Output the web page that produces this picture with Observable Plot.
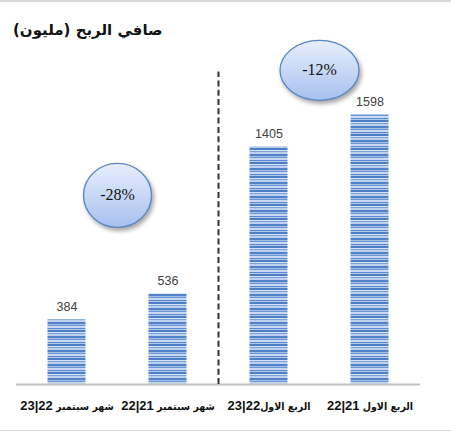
<!DOCTYPE html>
<html>
<head>
<meta charset="utf-8">
<script src="https://cdn.jsdelivr.net/npm/d3@7"></script>
<script src="https://cdn.jsdelivr.net/npm/@observablehq/plot@0.6"></script>
<style>
  body { margin: 0; background: #fff; }
  #wrap { position: relative; width: 451px; height: 432px; overflow: hidden; background: #fff; }
  #topline { position: absolute; left: 0; top: 0; width: 451px; height: 2px; background: #dadada; }
  #botline { position: absolute; left: 0; top: 430px; width: 451px; height: 1px; background: #dadada; }
  #title { position: absolute; left: 13px; top: 20px; font: bold 15px "DejaVu Sans", sans-serif; direction: rtl; color: #111; white-space: nowrap; line-height: 20px; }
  #chart { position: absolute; left: 0; top: 0; }
  .ell path { filter: drop-shadow(2px 3px 2px rgba(0,0,0,0.35)); }
  .arpart { font-size: 10.5px; font-family: "DejaVu Sans Condensed", "DejaVu Sans", sans-serif; }
</style>
</head>
<body>
<div id="wrap">
  <div id="chart"></div>
  <div id="topline"></div>
  <div id="botline"></div>
  <div id="title"></div>
</div>
<script>
const titleText = "صافي الربح (مليون)";
const categories = ["شهر سبتمبر 22|23", "شهر سبتمبر 21|22", "الربع الاول22|23", "الربع الاول 21|22"];
const values = [384, 536, 1405, 1598];
const changeLabels = ["-28%", "-12%"];
const changeAt = [1, 3];          // between the two compared categories
const changeY = [1120, 1860];     // vertical placement in data units
const dividerAt = [2];            // divider between the two groups

document.getElementById("title").textContent = titleText;

const bars = categories.map((c, i) => ({c, i, v: values[i]}));
const ellSizes = [[34, 32], [39.5, 30]];

function ellipse(rx, ry) {
  return {
    draw(ctx) {
      const k = 0.5522847498;
      ctx.moveTo(rx, 0);
      ctx.bezierCurveTo(rx, ry * k, rx * k, ry, 0, ry);
      ctx.bezierCurveTo(-rx * k, ry, -rx, ry * k, -rx, 0);
      ctx.bezierCurveTo(-rx, -ry * k, -rx * k, -ry, 0, -ry);
      ctx.bezierCurveTo(rx * k, -ry, rx, -ry * k, rx, 0);
      ctx.closePath();
    }
  };
}

const font = '"Liberation Sans", "DejaVu Sans", sans-serif';

const chart = Plot.plot({
  width: 451,
  height: 432,
  marginLeft: 16,
  marginRight: 31,
  marginTop: 80,
  marginBottom: 48,
  style: {fontFamily: font, background: "transparent"},
  x: {domain: [0, 4], axis: null},
  y: {domain: [0, 1800], axis: null},
  marks: [
    Plot.rectY(bars, {x1: d => d.i, x2: d => d.i + 1, y: "v", insetLeft: 31.5, insetRight: 31.5, fill: "url(#barStripes)"}),
    Plot.ruleY([0], {stroke: "#bfbfbf", strokeWidth: 2}),
    Plot.ruleX(dividerAt, {y1: 0, y2: 1850, stroke: "#333", strokeWidth: 2, strokeDasharray: "6,3.3"}),
    Plot.text(bars, {x: d => d.i + 0.5, y: "v", text: d => String(d.v), dy: -13, fill: "#404040", fontSize: 12.5, fontFamily: font}),
    Plot.axisX(bars.map(d => d.i + 0.5), {
      tickFormat: t => categories[Math.floor(t)],
      tickSize: 0, tickPadding: 16, fontSize: 13, fontWeight: "bold", color: "#111", fontFamily: font
    }),
    ...changeLabels.map((lab, k) => Plot.dot([k], {
      x: j => changeAt[j], y: j => changeY[j],
      symbol: ellipse(ellSizes[k][0], ellSizes[k][1]),
      fill: "url(#ellGrad)", stroke: "#5b86c5", strokeWidth: 1.3, className: "ell"
    })),
    Plot.text(changeLabels, {x: (d, k) => changeAt[k], y: (d, k) => changeY[k], text: d => d, fontFamily: '"Liberation Serif", serif', fontSize: 16, fill: "#111"})
  ]
});

const svg = d3.select(chart);
const defs = svg.insert("defs", ":first-child");
const pat = defs.append("pattern").attr("id", "barStripes").attr("patternUnits", "userSpaceOnUse").attr("width", 8).attr("height", 14);
const stripes = [
  [0, 2, "#5282c9"], [2, 1, "#a3bfe8"], [3, 1, "#6d96d4"], [4, 2, "#c8d9f1"],
  [6, 1, "#5a88cc"], [7, 1, "#b0c9ec"], [8, 2, "#4e7ec6"], [10, 1, "#d3e1f4"],
  [11, 1, "#7ea3da"], [12, 2, "#bdd1ee"]
];
stripes.forEach(([y, h, c]) => pat.append("rect").attr("x", 0).attr("y", y).attr("width", 8).attr("height", h).attr("fill", c));
const grad = defs.append("linearGradient").attr("id", "ellGrad").attr("x1", 0).attr("y1", 0).attr("x2", 0).attr("y2", 1);
grad.append("stop").attr("offset", "0%").attr("stop-color", "#e8effc");
grad.append("stop").attr("offset", "100%").attr("stop-color", "#a6c0ee");

// Render the Arabic part of each category label smaller, as in the original
svg.selectAll("text").each(function() {
  const t = d3.select(this);
  const s = t.text();
  if (!categories.includes(s)) return;
  const parts = s.match(/[^0-9|]+|[0-9|]+/g) || [s];
  t.text(null);
  parts.forEach(p => {
    const ts = t.append("tspan").text(p);
    if (!/[0-9]/.test(p)) ts.attr("class", "arpart");
  });
});

document.getElementById("chart").appendChild(chart);
</script>
</body>
</html>
